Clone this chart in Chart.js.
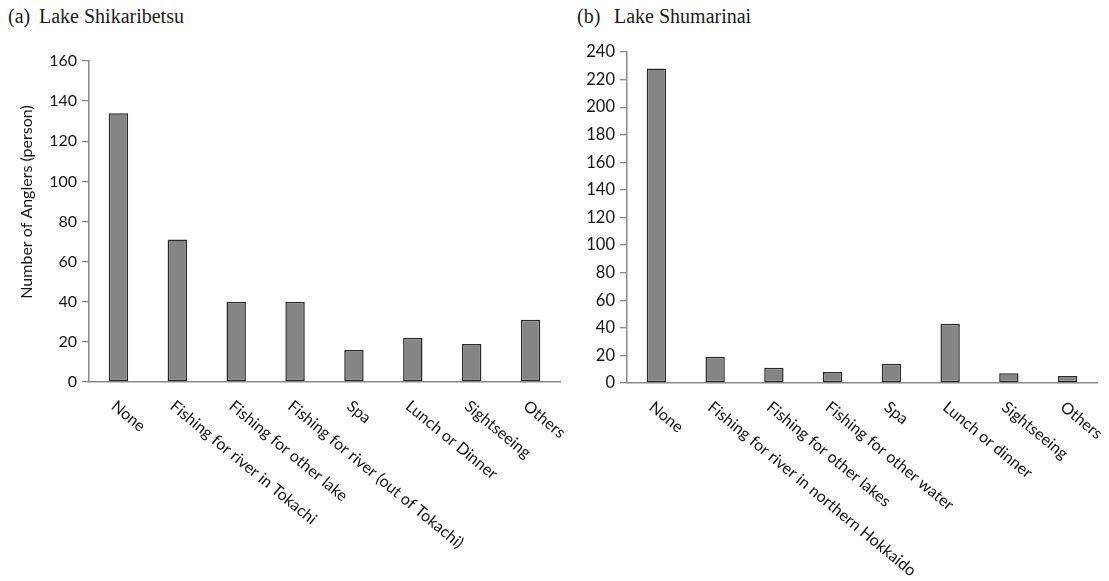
<!DOCTYPE html>
<html>
<head>
<meta charset="utf-8">
<script src="https://cdn.jsdelivr.net/npm/chart.js@4.4.1/dist/chart.umd.min.js"></script>
<style>
  html, body { margin: 0; padding: 0; background: #fff; }
  body { width: 1109px; height: 581px; position: relative; overflow: hidden; }
  .panel-title {
    position: absolute; top: 6px;
    font-family: "Liberation Serif", "Times New Roman", serif;
    font-size: 20px; line-height: 20px; color: #1a1a1a; white-space: pre;
  }
  canvas { position: absolute; top: 0; }
</style>
</head>
<body>
<div class="panel-title" style="left:8px">(a)</div>
<div class="panel-title" style="left:39px">Lake Shikaribetsu</div>
<div class="panel-title" style="left:577px">(b)</div>
<div class="panel-title" style="left:614px">Lake Shumarinai</div>

<canvas id="chartA" width="580" height="581" style="left:0"></canvas>
<canvas id="chartB" width="569" height="581" style="left:540px"></canvas>

<script>
// Other activities of anglers visiting each lake
const shikaribetsuCategories = [
  "None",
  "Fishing for river in Tokachi",
  "Fishing for other lake",
  "Fishing for river (out of Tokachi)",
  "Spa",
  "Lunch or Dinner",
  "Sightseeing",
  "Others"
];
const shikaribetsuAnglers = [134, 71, 40, 40, 16, 22, 19, 31];

const shumarinaiCategories = [
  "None",
  "Fishing for river in northern Hokkaido",
  "Fishing for other lakes",
  "Fishing for other water",
  "Spa",
  "Lunch or dinner",
  "Sightseeing",
  "Others"
];
const shumarinaiAnglers = [228, 19, 11, 8, 14, 43, 7, 5];

const shikaribetsuAxis = { max: 160, step: 20 };
const shumarinaiAxis = { max: 240, step: 20 };

const yAxisTitle = "Number of Anglers (person)";

const AXIS_GREY = "#8a8a8a";
const TEXT_COLOR = "#151515";

// Slanted category labels (reading downward to the right) and the vertical axis title
const axisText = {
  id: "axisText",
  afterDraw(chart, args, opts) {
    const { ctx } = chart;
    const x = chart.scales.x;
    const area = chart.chartArea;
    ctx.save();
    ctx.fillStyle = TEXT_COLOR;
    ctx.font = opts.labelFont;
    ctx.textAlign = "left";
    ctx.textBaseline = "middle";
    chart.data.labels.forEach((label, i) => {
      const px = x.getPixelForValue(i);
      ctx.save();
      ctx.translate(px + opts.dx, area.bottom + opts.dy);
      ctx.rotate(opts.angle * Math.PI / 180);
      ctx.fillText(label, 0, 0);
      ctx.restore();
    });
    if (opts.title) {
      ctx.save();
      ctx.font = opts.titleFont;
      ctx.textAlign = "center";
      ctx.translate(opts.titleX, opts.titleY);
      ctx.rotate(-Math.PI / 2);
      ctx.fillText(opts.title, 0, 0);
      ctx.restore();
    }
    ctx.restore();
  }
};

function makeChart(canvasId, labels, values, axis, geo) {
  return new Chart(document.getElementById(canvasId), {
    type: "bar",
    data: {
      labels: labels,
      datasets: [{
        data: values,
        backgroundColor: "#858585",
        borderColor: "#2a2a2a",
        borderWidth: 1.5,
        borderSkipped: false,
        barPercentage: 0.33,
        categoryPercentage: 1.0
      }]
    },
    options: {
      responsive: false,
      animation: false,
      devicePixelRatio: 1,
      layout: { padding: { top: geo.top, right: geo.right, left: 0, bottom: 0 } },
      plugins: {
        legend: { display: false },
        tooltip: { enabled: false },
        axisText: {
          labelFont: "16px Lato",
          dx: -5, dy: 22, angle: 39.5,
          title: geo.title,
          titleFont: "16px Lato",
          titleX: 27, titleY: 202
        }
      },
      scales: {
        x: {
          grid: { display: false },
          border: { display: true, color: AXIS_GREY, width: 1.5 },
          ticks: { display: false },
          afterFit(scale) { scale.height = geo.xHeight; }
        },
        y: {
          min: 0,
          max: axis.max,
          ticks: {
            stepSize: axis.step,
            color: TEXT_COLOR,
            font: { family: "Lato", size: geo.tickSize },
            padding: 5
          },
          grid: {
            drawOnChartArea: false,
            drawTicks: true,
            tickLength: 7,
            color: AXIS_GREY,
            lineWidth: 1.3
          },
          border: { display: true, color: AXIS_GREY, width: 1.5 },
          afterFit(scale) { scale.width = geo.yWidth; }
        }
      }
    },
    plugins: [axisText]
  });
}

makeChart("chartA", shikaribetsuCategories, shikaribetsuAnglers, shikaribetsuAxis,
  { top: 61, right: 20, xHeight: 199, yWidth: 89, tickSize: 16, title: yAxisTitle });
makeChart("chartB", shumarinaiCategories, shumarinaiAnglers, shumarinaiAxis,
  { top: 52, right: 12, xHeight: 198, yWidth: 87, tickSize: 16.5, title: null });
</script>
</body>
</html>
